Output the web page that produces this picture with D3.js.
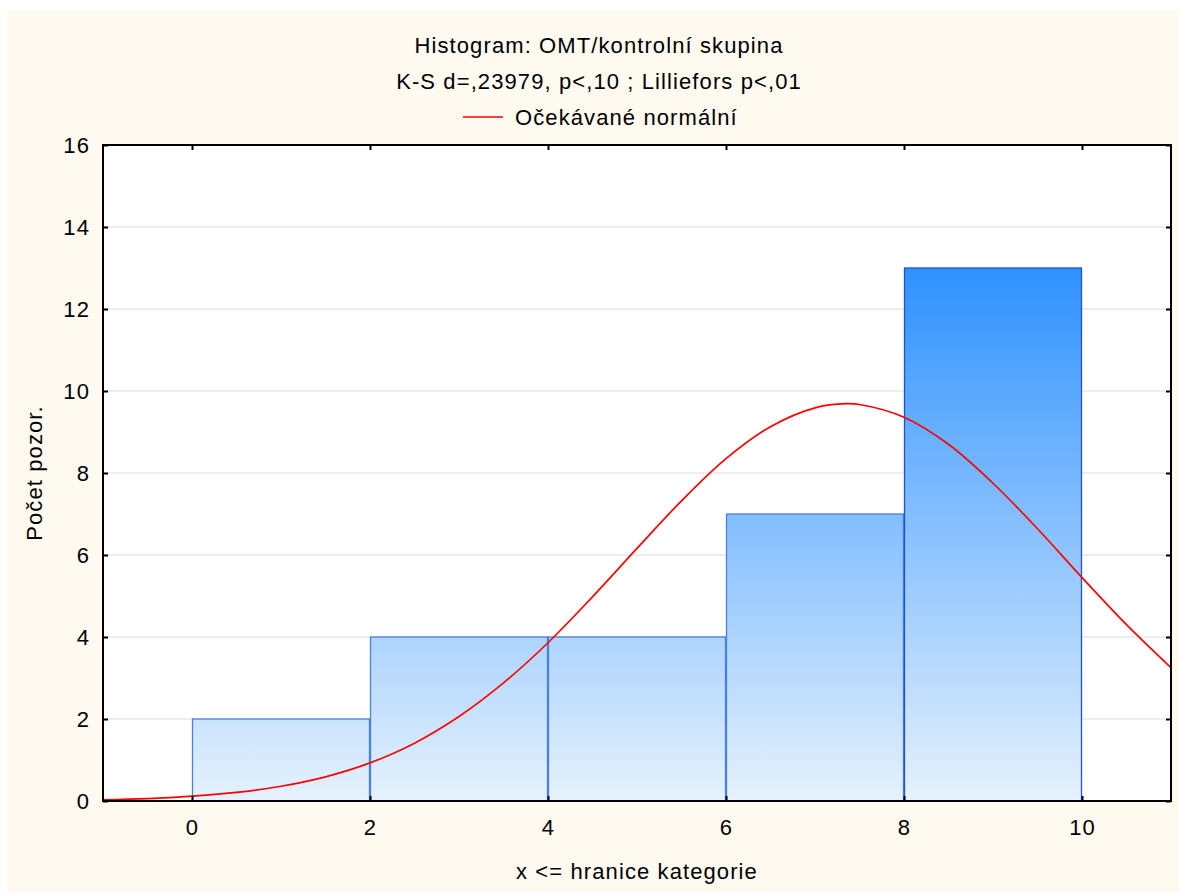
<!DOCTYPE html>
<html>
<head>
<meta charset="utf-8">
<script src="https://cdn.jsdelivr.net/npm/d3@7"></script>
<style>
  html, body { margin: 0; padding: 0; background: #ffffff; }
  svg { display: block; font-family: "Liberation Sans", Arial, sans-serif; }
</style>
</head>
<body>
<svg id="chart" width="1179" height="892"></svg>
<script>
// ---- data ----
const binLower = [0, 2, 4, 6, 8];
const binUpper = [2, 4, 6, 8, 10];
const counts   = [2, 4, 4, 7, 13];
const xTicks = [0, 2, 4, 6, 8, 10];
const yTicks = [0, 2, 4, 6, 8, 10, 12, 14, 16];
// expected normal curve (x, expected count)
const curveX = [-1, -0.5, 0, 0.5, 1, 1.5, 2, 2.5, 3, 3.5, 4, 4.5, 5, 5.5, 6, 6.5, 7, 7.35, 7.5, 8, 8.5, 9, 9.5, 10, 10.5, 11];
const curveY = [0.03, 0.06, 0.12, 0.21, 0.36, 0.59, 0.93, 1.41, 2.06, 2.88, 3.86, 4.98, 6.16, 7.32, 8.35, 9.13, 9.59, 9.69, 9.67, 9.36, 8.70, 7.75, 6.64, 5.45, 4.30, 3.25];
const titleLines = ["Histogram: OMT/kontrolní skupina", "K-S d=,23979, p<,10 ; Lilliefors p<,01"];
const legendLabel = "Očekávané normální";
const xLabel = "x <= hranice kategorie";
const yLabel = "Počet pozor.";

// ---- layout ----
const W = 1179, H = 892;
const FS = 22, LS = "1.1px";
const plot = { left: 103, right: 1171, top: 145, bottom: 801 };
const svg = d3.select("#chart");

svg.append("rect").attr("x", 7).attr("y", 10).attr("width", W - 7).attr("height", H - 10)
  .attr("fill", "#fefaf0");

const x = d3.scaleLinear().domain([-1, 11]).range([plot.left, plot.right]);
const y = d3.scaleLinear().domain([0, 16]).range([plot.bottom, plot.top]);

const defs = svg.append("defs");
const grad = defs.append("linearGradient").attr("id", "barGrad")
  .attr("gradientUnits", "userSpaceOnUse")
  .attr("x1", 0).attr("x2", 0).attr("y1", y(13)).attr("y2", y(0));
grad.append("stop").attr("offset", "0%").attr("stop-color", "#2e91ff");
grad.append("stop").attr("offset", "100%").attr("stop-color", "#e6f2fd");

// plot background
svg.append("rect").attr("x", plot.left).attr("y", plot.top)
  .attr("width", plot.right - plot.left).attr("height", plot.bottom - plot.top)
  .attr("fill", "#ffffff");

// gridlines
svg.append("g").selectAll("line").data(yTicks.filter(d => d > 0 && d < 16)).join("line")
  .attr("x1", plot.left).attr("x2", plot.right)
  .attr("y1", d => y(d)).attr("y2", d => y(d))
  .attr("stroke", "#dcdcdc").attr("stroke-width", 1);

// bars
svg.append("g").selectAll("rect").data(counts).join("rect")
  .attr("x", (d, i) => x(binLower[i]) + 0.5)
  .attr("width", (d, i) => x(binUpper[i]) - x(binLower[i]) - 1)
  .attr("y", d => y(d))
  .attr("height", d => y(0) - y(d))
  .attr("fill", "url(#barGrad)")
  .attr("stroke", (d, i) => i === 4 ? "#1f52cf" : "#4a80de")
  .attr("stroke-width", 1.3);

// normal curve
const line = d3.line().x(d => x(d[0])).y(d => y(d[1])).curve(d3.curveCatmullRom);
svg.append("path").datum(curveX.map((v, i) => [v, curveY[i]]))
  .attr("d", line).attr("fill", "none").attr("stroke", "#ff0000").attr("stroke-width", 1.7);

// frame
svg.append("rect").attr("x", plot.left).attr("y", plot.top)
  .attr("width", plot.right - plot.left).attr("height", plot.bottom - plot.top)
  .attr("fill", "none").attr("stroke", "#000").attr("stroke-width", 2);

// axes (ticks inward)
const axL = svg.append("g").attr("transform", `translate(${plot.left},0)`)
  .call(d3.axisLeft(y).tickValues(yTicks).tickSizeInner(-5).tickSizeOuter(0).tickPadding(13));
const axR = svg.append("g").attr("transform", `translate(${plot.right},0)`)
  .call(d3.axisRight(y).tickValues(yTicks).tickSizeInner(-5).tickSizeOuter(0).tickFormat(""));
const axB = svg.append("g").attr("transform", `translate(0,${plot.bottom})`)
  .call(d3.axisBottom(x).tickValues(xTicks).tickSizeInner(-5).tickSizeOuter(0).tickPadding(18));
const axT = svg.append("g").attr("transform", `translate(0,${plot.top})`)
  .call(d3.axisTop(x).tickValues(xTicks).tickSizeInner(-5).tickSizeOuter(0).tickFormat(""));
[axL, axR, axB, axT].forEach(a => {
  a.select(".domain").remove();
  a.selectAll(".tick line").attr("stroke", "#000").attr("stroke-width", 2);
  a.selectAll("text").attr("font-size", FS).attr("fill", "#000").attr("letter-spacing", LS)
    .attr("font-family", '"Liberation Sans", Arial, sans-serif');
});

// titles
svg.append("g").selectAll("text").data(titleLines).join("text")
  .attr("x", 599).attr("y", (d, i) => 53 + i * 36)
  .attr("text-anchor", "middle").attr("font-size", FS).attr("letter-spacing", LS).attr("fill", "#000")
  .text(d => d);

// legend
svg.append("line").attr("x1", 463).attr("x2", 503).attr("y1", 117).attr("y2", 117)
  .attr("stroke", "#ff0000").attr("stroke-width", 1.7);
svg.append("text").attr("x", 515).attr("y", 125).attr("font-size", FS).attr("letter-spacing", LS).attr("fill", "#000")
  .text(legendLabel);

// axis labels
svg.append("text").attr("x", (plot.left + plot.right) / 2).attr("y", 879)
  .attr("text-anchor", "middle").attr("font-size", FS).attr("letter-spacing", LS).attr("fill", "#000").text(xLabel);
svg.append("text").attr("transform", `translate(42,${(plot.top + plot.bottom) / 2}) rotate(-90)`)
  .attr("text-anchor", "middle").attr("font-size", FS).attr("letter-spacing", LS).attr("fill", "#000").text(yLabel);
</script>
</body>
</html>
